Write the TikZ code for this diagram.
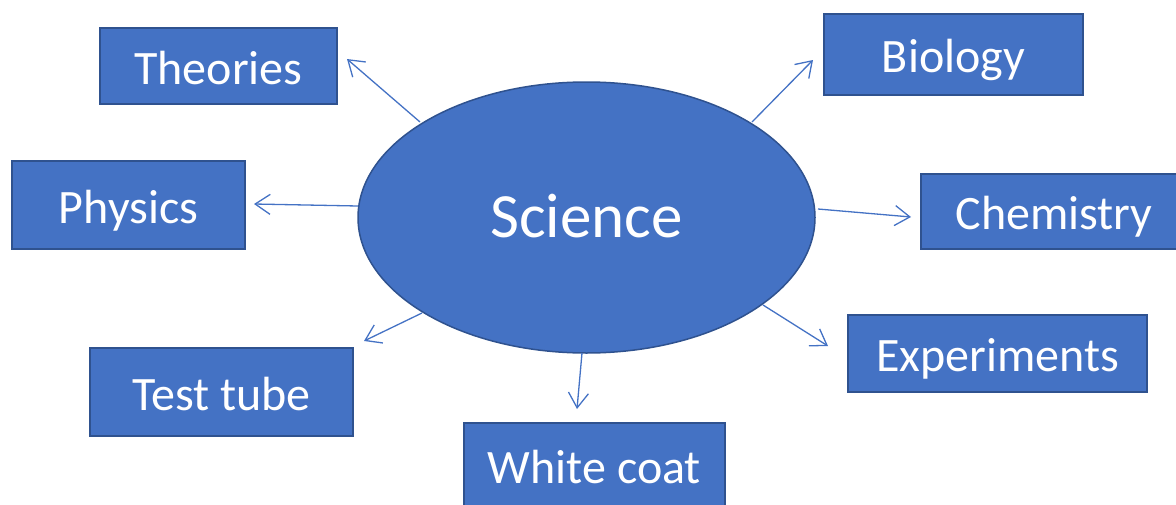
\documentclass[tikz,border=0pt]{standalone}
\usepackage{fontspec}
\setmainfont{Carlito}
\usetikzlibrary{arrows.meta,shapes.geometric}
\definecolor{fillblue}{HTML}{4472C4}
\definecolor{edgeblue}{HTML}{2F528F}
\tikzset{
  box/.style={draw=edgeblue, line width=1.5pt, fill=fillblue, text=white, inner sep=0pt,
    text height=36pt, text depth=0pt, font=\fontsize{48}{52}\selectfont},
  link/.style={draw=fillblue, line width=1.3pt, -{Straight Barb[length=15pt,width=20pt]}},
}
\begin{document}
\begin{tikzpicture}[x=1pt,y=-1pt]
\useasboundingbox (0,0) rectangle (1176,504);
\node[ellipse, draw=edgeblue, line width=1.5pt, fill=fillblue, text=white,
  minimum width=457pt, minimum height=271pt, inner sep=0pt,
  text height=40pt, text depth=0pt,
  font=\fontsize{63}{70}\selectfont] (sci) at (586.5,217.5) {Science};
\node[box, minimum width=237pt, minimum height=76pt] (theo) at (218.5,66) {Theories};
\node[box, minimum width=259pt, minimum height=81pt] (bio) at (953.5,54.5) {Biology};
\node[box, minimum width=233pt, minimum height=88pt] (phys) at (128.5,205) {Physics};
\node[box, minimum width=266pt, minimum height=75pt] (chem) at (1054,211.5) {Chemistry};
\node[box, minimum width=299pt, minimum height=77pt] (exp) at (997.5,353.5) {Experiments};
\node[box, minimum width=263pt, minimum height=88pt] (tube) at (221.5,392) {Test tube};
\node[box, minimum width=261pt, minimum height=84pt] (coat) at (594.5,465) {White coat};
% arrow end points
\coordinate (s1) at (420,122); \coordinate (e1) at (347,59);
\coordinate (s2) at (752,122); \coordinate (e2) at (813,60);
\coordinate (s3) at (358,206); \coordinate (e3) at (254,204);
\coordinate (s4) at (818,209); \coordinate (e4) at (911,217);
\coordinate (s5) at (763,305); \coordinate (e5) at (828,346);
\coordinate (s6) at (422,313); \coordinate (e6) at (364,341);
\coordinate (s7) at (582,353); \coordinate (e7) at (577,409);
\draw[link] (s1) -- (e1);
\draw[link] (s2) -- (e2);
\draw[link] (s3) -- (e3);
\draw[link] (s4) -- (e4);
\draw[link] (s5) -- (e5);
\draw[link] (s6) -- (e6);
\draw[link] (s7) -- (e7);
\end{tikzpicture}
\end{document}
